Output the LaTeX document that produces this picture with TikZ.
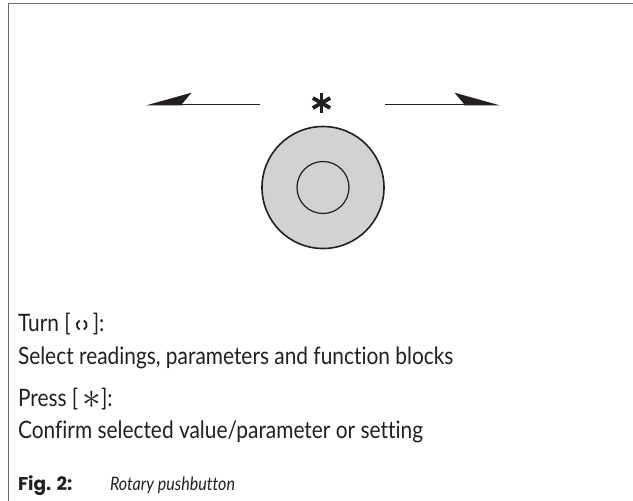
\documentclass[tikz,border=0pt]{standalone}
\usepackage{fontspec}
\setmainfont{Lato}[FakeStretch=0.87, Ligatures=NoCommon]
\newfontfamily\capfont{Poppins}
\definecolor{framegray}{HTML}{6B6B6B}
\definecolor{knobfill}{HTML}{D1D2D4}
\definecolor{ink}{HTML}{231F20}
\tikzset{
  txt/.style={anchor=base west, inner sep=0pt, outer sep=0pt, text=ink, font=\fontsize{24}{28}\selectfont},
  captxt/.style={anchor=base west, inner sep=0pt, outer sep=0pt, text=ink, font=\fontsize{18.5}{22}\selectfont},
  knob/.style={circle, draw=ink, fill=knobfill, line width=1.6pt, inner sep=0pt},
  knobinner/.style={circle, draw=ink, line width=1.2pt, inner sep=0pt},
  harpoon/.style={fill=ink, draw=none},
  shaft/.style={draw=ink, line width=1.3pt},
  starbar/.style={draw=ink, line width=3.8pt},
  rotarc/.style={draw=ink, line width=1.8pt},
}
\begin{document}
\begin{tikzpicture}[x=1pt,y=-1pt]
\useasboundingbox (0,0) rectangle (633,501);
% frame
\draw[framegray, line width=1.6pt] (8.5,502) -- (8.5,3.6) -- (634,3.6);
% arrows
\draw[shaft] (181,104.7) -- (260,104.7);
\fill[harpoon] (146,105.4) -- (191.5,92.7) -- (182,104) -- (182,105.4) -- cycle;
\draw[shaft] (385,104.7) -- (465,104.7);
\fill[harpoon] (500,105.4) -- (454.5,92.7) -- (464,104) -- (464,105.4) -- cycle;
% big asterisk
\coordinate (star) at (321.5,103);
\draw[starbar] ([yshift=10pt]star) -- ([yshift=-10pt]star);
\draw[starbar] ([shift={(8.66pt,5pt)}]star) -- ([shift={(-8.66pt,-5pt)}]star);
\draw[starbar] ([shift={(-8.66pt,5pt)}]star) -- ([shift={(8.66pt,-5pt)}]star);
% knob
\node[knob, minimum size=122pt] (outer) at (323,187.5) {};
\node[knobinner, minimum size=52pt] (inner) at (323,187.5) {};
% texts
\node[txt] (turnA) at (18,331.5) {Turn [};
\coordinate (rot) at ([xshift=11pt, yshift=6.5pt]turnA.base east);
\draw[rotarc] ([shift={(115:5pt)}]rot) arc (115:245:5pt);
\draw[rotarc] ([shift={(-65:5pt)}]rot) arc (-65:65:5pt);
\node[txt] (turnB) at ([xshift=22pt]turnA.base east) {]:};
\node[txt] (sel) at (18,364.5) {Select readings, parameters and function blocks};
\node[txt] (press) at (18,406.5) {Press [\,\raisebox{-1.5pt}{\scalebox{1.5}{$\ast$}}]:};
\node[txt] (conf) at (18,438) {Confirm selected value/parameter or setting};
\node[captxt] (fig) at (18,490) {\capfont\bfseries Fig. 2:};
\node[captxt] (figt) at (110,490) {\itshape Rotary pushbutton};
\end{tikzpicture}
\end{document}
